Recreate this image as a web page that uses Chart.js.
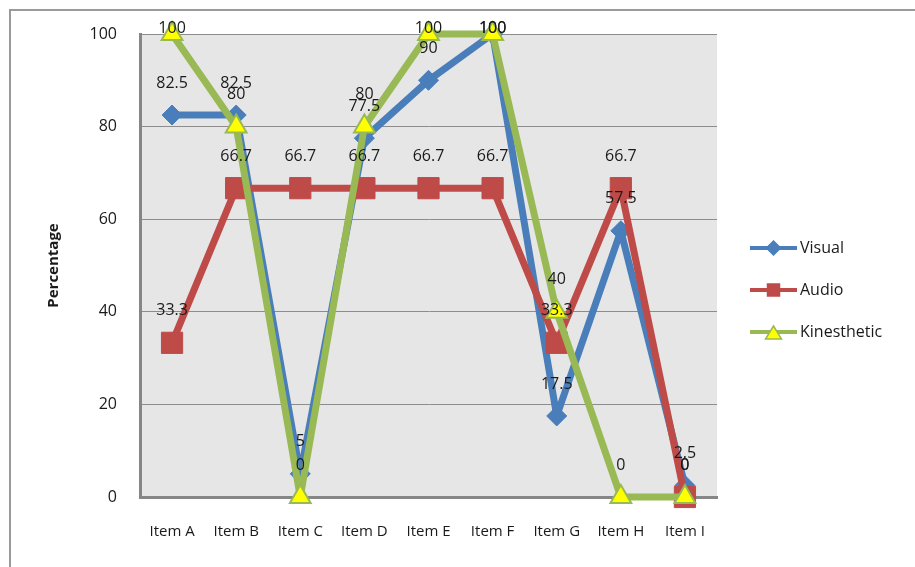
<!DOCTYPE html>
<html>
<head>
<meta charset="utf-8">
<script src="https://cdn.jsdelivr.net/npm/chart.js@4/dist/chart.umd.min.js"></script>
<style>
html,body{margin:0;padding:0;background:#fff;}
#wrap{width:915px;height:567px;position:relative;}
</style>
</head>
<body>
<div id="wrap"><canvas id="c" width="915" height="567"></canvas></div>
<script>
const categories = ['Item A','Item B','Item C','Item D','Item E','Item F','Item G','Item H','Item I'];
const visual = [82.5, 82.5, 5, 77.5, 90, 100, 17.5, 57.5, 2.5];
const audio = [33.3, 66.7, 66.7, 66.7, 66.7, 66.7, 33.3, 66.7, 0];
const kinesthetic = [100, 80, 0, 80, 100, 100, 40, 0, 0];
const seriesNames = ['Visual','Audio','Kinesthetic'];
const yTicks = [0, 20, 40, 60, 80, 100];
const yTitle = 'Percentage';

const FONT = '"Open Sans", "Noto Sans", sans-serif';
const BLUE = '#4A7EBB', RED = '#BE4B48', GREEN = '#98B954', YELLOW = '#FFFF00';

const frame = {
  id: 'frame',
  beforeDraw(chart) {
    const ctx = chart.ctx, a = chart.chartArea;
    ctx.save();
    ctx.fillStyle = '#fff';
    ctx.fillRect(0, 0, chart.width, chart.height);
    ctx.strokeStyle = '#9a9a9a';
    ctx.lineWidth = 2;
    ctx.strokeRect(10, 10, 2000, 2000);
    ctx.fillStyle = '#e6e6e6';
    ctx.fillRect(a.left, a.top, a.right - a.left, a.bottom - a.top);
    ctx.restore();
  }
};

const dataLabels = {
  id: 'dataLabels',
  afterDatasetsDraw(chart) {
    const ctx = chart.ctx;
    ctx.save();
    ctx.font = '16px ' + FONT;
    ctx.fillStyle = '#1a1a1a';
    ctx.textAlign = 'center';
    ctx.textBaseline = 'middle';
    chart.data.datasets.forEach((ds, i) => {
      const meta = chart.getDatasetMeta(i);
      meta.data.forEach((pt, j) => {
        const y = Math.max(pt.y - 32, 28);
        ctx.fillText(String(ds.data[j]), pt.x, y);
      });
    });
    ctx.restore();
  }
};

const legendPlugin = {
  id: 'customLegend',
  afterDraw(chart) {
    const ctx = chart.ctx;
    const x0 = 750, x1 = 797, ys = [248, 290, 332];
    ctx.save();
    chart.data.datasets.forEach((ds, i) => {
      const y = ys[i];
      ctx.strokeStyle = ds.borderColor;
      ctx.lineWidth = 4;
      ctx.beginPath(); ctx.moveTo(x0, y); ctx.lineTo(x1, y); ctx.stroke();
      const cx = (x0 + x1) / 2;
      ctx.fillStyle = ds.pointBackgroundColor;
      ctx.strokeStyle = ds.pointBorderColor;
      ctx.lineWidth = 1.5;
      ctx.beginPath();
      if (ds.pointStyle === 'rectRot') {
        ctx.moveTo(cx, y - 7); ctx.lineTo(cx + 7, y); ctx.lineTo(cx, y + 7); ctx.lineTo(cx - 7, y); ctx.closePath();
      } else if (ds.pointStyle === 'rect') {
        ctx.rect(cx - 6, y - 6, 12, 12);
      } else {
        ctx.moveTo(cx, y - 6); ctx.lineTo(cx + 8, y + 7); ctx.lineTo(cx - 8, y + 7); ctx.closePath();
      }
      ctx.fill(); ctx.stroke();
      ctx.fillStyle = '#1a1a1a';
      ctx.font = '16px ' + FONT;
      ctx.textAlign = 'left';
      ctx.textBaseline = 'middle';
      ctx.fillText(ds.label, x1 + 3, y);
    });
    ctx.restore();
  }
};

new Chart(document.getElementById('c'), {
  type: 'line',
  data: {
    labels: categories,
    datasets: [
      { label: seriesNames[0], data: visual, borderColor: BLUE, backgroundColor: BLUE,
        borderWidth: 7, borderJoinStyle: 'round', pointStyle: 'rectRot', pointRadius: 10, pointBorderWidth: 1,
        pointBackgroundColor: BLUE, pointBorderColor: BLUE, tension: 0, order: 2 },
      { label: seriesNames[1], data: audio, borderColor: RED, backgroundColor: RED,
        borderWidth: 7, borderJoinStyle: 'round', pointStyle: 'rect', pointRadius: 15, pointBorderWidth: 1,
        pointBackgroundColor: RED, pointBorderColor: RED, tension: 0, order: 1 },
      { label: seriesNames[2], data: kinesthetic, borderColor: GREEN, backgroundColor: GREEN,
        borderWidth: 7, borderJoinStyle: 'round', pointStyle: 'triangle', pointRadius: 12, pointBorderWidth: 2,
        pointBackgroundColor: YELLOW, pointBorderColor: GREEN, tension: 0, order: 0 }
    ]
  },
  options: {
    responsive: false,
    animation: false,
    events: [],
    clip: false,
    layout: { padding: { left: 0, right: 198, top: 34, bottom: 0 } },
    plugins: { legend: { display: false }, tooltip: { enabled: false }, title: { display: false } },
    scales: {
      x: {
        offset: true,
        grid: { display: false, drawTicks: false, offset: true },
        border: { display: true, color: '#868686', width: 3 },
        ticks: { color: '#1a1a1a', font: { family: FONT, size: 15 }, padding: 26, maxRotation: 0, autoSkip: false },
        afterFit(s) { s.height = 70; }
      },
      y: {
        min: 0, max: 100,
        afterBuildTicks(s) { s.ticks = yTicks.map(v => ({ value: v })); },
        grid: { color: '#8c8c8c', lineWidth: 1, drawTicks: false },
        border: { display: true, color: '#868686', width: 3 },
        ticks: { color: '#1a1a1a', font: { family: FONT, size: 16 }, padding: 23 },
        title: { display: true, text: yTitle, color: '#1a1a1a', font: { family: FONT, size: 15, weight: 'bold' }, padding: { top: 45, bottom: 0 } },
        afterFit(s) { s.width = 140; }
      }
    }
  },
  plugins: [frame, dataLabels, legendPlugin]
});
</script>
</body>
</html>
